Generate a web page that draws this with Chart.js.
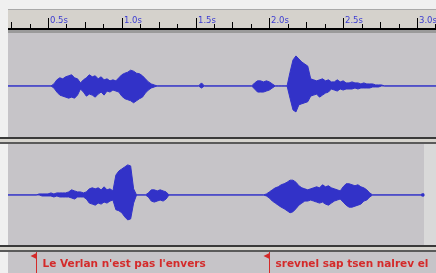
<!DOCTYPE html>
<html><head><meta charset="utf-8">
<script src="https://cdn.jsdelivr.net/npm/chart.js@4.4.1/dist/chart.umd.min.js"></script>
<style>html,body{margin:0;padding:0;background:#f0f0f0;overflow:hidden}canvas{display:block}</style>
</head><body>
<canvas id="c" width="436" height="273"></canvas>
<script>
// ---- time axis (seconds) ----
const viewStart = 0.229, viewEnd = 3.129;
const sampleStep = 0.02;
const rulerMajorTicks = [0.5, 1.0, 1.5, 2.0, 2.5, 3.0];
const rulerMajorLabels = ['0.5s', '1.0s', '1.5s', '2.0s', '2.5s', '3.0s'];
const rulerQuarterTicks = [0.25, 0.75, 1.25, 1.75, 2.25, 2.75];
const rulerEighthTicks = [0.375, 0.625, 0.875, 1.125, 1.375, 1.625, 1.875, 2.125, 2.375, 2.625, 2.875, 3.125];

// ---- track 1 waveform envelope (percent of full scale) ----
const t1Seg1Start = 0.54;
const t1Seg1Up   = [4,12,16,14,18,20,22,16,14,6, 12,16,22,18,20,14,18,12,14,10, 12,10,16,22,25,27,31,29,25,24, 20,14,8,4,2];
const t1Seg1Down = [4,12,18,20,22,24,22,24,18,6, 12,20,16,18,22,16,12,18,10,12, 8,10,12,20,25,27,29,33,29,25, 22,14,8,4,2];
const t1Seg2Start = 1.54;
const t1Seg2Up   = [6];
const t1Seg2Down = [4];
const t1Seg3Start = 1.90;
const t1Seg3Up   = [6,10,10,8,10,8,4, 0,0,0,0,0, 27,51,59,53,47,43,39,14,12,10, 12,14,10,12,8,8,12,8,10,6, 6,8,6,6,4,6,4,4,4,2, 2,2];
const t1Seg3Down = [6,12,12,12,10,8,4, 0,0,0,0,0, 24,47,51,37,35,33,31,20,18,16, 22,18,14,12,6,8,10,6,8,6, 6,6,4,6,4,4,4,4,2,2, 2,0];
const track1End = 3.3;

// ---- track 2 waveform envelope (percent of full scale) ----
const t2Seg1Start = 0.44;
const t2Seg1Up   = [2,2,2,2,4,2,4,4,4,4, 6,10,8,6,6,4,6,12,14,12, 14,10,16,10,12,8,39,47,51,55,59,57,12];
const t2Seg1Down = [0,2,2,2,2,4,2,4,4,4, 4,6,8,4,4,4,8,16,18,20, 16,18,14,16,12,10,29,31,35,43,49,47,16];
const t2Seg2Start = 1.18;
const t2Seg2Up   = [4,10,10,8,10,8,6];
const t2Seg2Down = [4,12,14,12,10,12,8];
const t2Seg3Start = 1.98;
const t2Seg3Up   = [2,6,10,14,16,20,22,25,29,29, 25,18,14,12,10,12,14,16,14,20, 16,18,14,12,10,8,16,22,22,20, 18,20,16,14,10,4];
const t2Seg3Down = [2,6,12,16,20,24,27,31,35,33, 27,20,16,12,12,10,12,14,16,14, 18,20,16,12,10,8,14,20,24,24, 22,20,18,12,10,4];
const track2End = 3.04;

// ---- label track ----
const labelTimes = [0.42, 2.00];
const labelTexts = ["Le Verlan n'est pas l'envers", "srevnel sap tsen nalrev el"];

// ---- styles ----
const WAVE = '#3232c8';
const TRACK_BG = '#c6c4c8';
const TRACK_BG_END = '#d9d9d9';
const RULER_BG = '#d5d2cc';
const RULER_TEXT = '#3c3cd2';
const LABEL_RED = '#d42a2a';

function buildEnvelope(segs, endTime) {
  const up = [{x: viewStart - 0.2, y: 0}], down = [{x: viewStart - 0.2, y: 0}];
  for (const s of segs) {
    up.push({x: s.start - sampleStep, y: 0});
    down.push({x: s.start - sampleStep, y: 0});
    s.up.forEach((v, i) => {
      const t = s.start + i * sampleStep;
      up.push({x: t, y: v});
      down.push({x: t, y: -s.down[i]});
    });
    const e = s.start + s.up.length * sampleStep;
    up.push({x: e, y: 0});
    down.push({x: e, y: 0});
  }
  up.push({x: endTime, y: 0});
  down.push({x: endTime, y: 0});
  return {up, down};
}

const env1 = buildEnvelope([
  {start: t1Seg1Start, up: t1Seg1Up, down: t1Seg1Down},
  {start: t1Seg2Start, up: t1Seg2Up, down: t1Seg2Down},
  {start: t1Seg3Start, up: t1Seg3Up, down: t1Seg3Down}
], track1End);
const env2 = buildEnvelope([
  {start: t2Seg1Start, up: t2Seg1Up, down: t2Seg1Down},
  {start: t2Seg2Start, up: t2Seg2Up, down: t2Seg2Down},
  {start: t2Seg3Start, up: t2Seg3Up, down: t2Seg3Down}
], track2End);

const SEP1 = 7, SEP2 = 6;

function drawSeparator(ctx, y, w) {
  ctx.fillStyle = '#3a3a3a'; ctx.fillRect(0, y, w, 2);
  ctx.fillStyle = '#d6d4ce'; ctx.fillRect(0, y + 2, w, 3);
  ctx.fillStyle = '#5a5a5a'; ctx.fillRect(0, y + 5, w, 2);
}

const chrome = {
  id: 'chrome',
  beforeDraw(chart) {
    const {ctx, chartArea, scales} = chart;
    const {x, y1, y2, y3} = scales;
    const L = chartArea.left, R = chartArea.right, W = chart.width;
    const top = chartArea.top;
    ctx.save();
    ctx.fillStyle = '#f0f0f0';
    ctx.fillRect(0, 0, W, chart.height);
    // ruler
    const rb = top - 5;
    ctx.fillStyle = '#a9a9a9'; ctx.fillRect(L, 9, R - L, 1);
    ctx.fillStyle = RULER_BG; ctx.fillRect(L, 10, R - L, rb - 10);
    ctx.fillStyle = '#000'; ctx.fillRect(L, rb, R - L, 2);
    ctx.fillStyle = '#9a9a9a'; ctx.fillRect(L, rb + 2, R - L, 3);
    ctx.strokeStyle = '#000'; ctx.lineWidth = 1;
    const tick = (v, h) => {
      const px = Math.round(x.getPixelForValue(v)) + 0.5;
      if (px < L || px > R) return;
      ctx.beginPath(); ctx.moveTo(px, rb - h); ctx.lineTo(px, rb); ctx.stroke();
    };
    rulerEighthTicks.forEach(v => tick(v, 4));
    rulerQuarterTicks.forEach(v => tick(v, 6));
    rulerMajorTicks.forEach(v => tick(v, 10));
    ctx.fillStyle = RULER_TEXT;
    ctx.font = '8.5px "DejaVu Sans"';
    ctx.textBaseline = 'alphabetic'; ctx.textAlign = 'left';
    rulerMajorTicks.forEach((v, i) => {
      const px = Math.round(x.getPixelForValue(v)) + 2;
      ctx.fillText(rulerMajorLabels[i], px, rb - 5.5);
    });
    // track 1
    ctx.fillStyle = TRACK_BG;
    ctx.fillRect(L, y1.top, R - L, y1.bottom - y1.top - SEP1);
    drawSeparator(ctx, y1.bottom - SEP1, W);
    // track 2
    ctx.fillStyle = TRACK_BG;
    ctx.fillRect(L, y2.top, R - L, y2.bottom - y2.top - SEP2);
    const ex = Math.round(x.getPixelForValue(track2End)) + 1;
    ctx.fillStyle = TRACK_BG_END;
    ctx.fillRect(ex, y2.top, R - ex, y2.bottom - y2.top - SEP2);
    drawSeparator(ctx, y2.bottom - SEP2, W);
    // label track
    ctx.fillStyle = TRACK_BG;
    ctx.fillRect(L, y3.top + 1, R - L, y3.bottom - y3.top);
    ctx.restore();
  },
  afterDatasetsDraw(chart) {
    const {ctx, scales} = chart;
    const {x, y3} = scales;
    ctx.save();
    labelTimes.forEach((t, i) => {
      const px = Math.round(x.getPixelForValue(t)) + 0.5;
      ctx.strokeStyle = LABEL_RED; ctx.lineWidth = 1;
      ctx.beginPath(); ctx.moveTo(px, y3.top + 1); ctx.lineTo(px, y3.bottom); ctx.stroke();
      ctx.fillStyle = LABEL_RED;
      ctx.beginPath();
      ctx.moveTo(px, y3.top + 2);
      ctx.lineTo(px - 6, y3.top + 5);
      ctx.lineTo(px, y3.top + 8);
      ctx.closePath(); ctx.fill();
      ctx.font = 'bold 10.5px "DejaVu Sans"';
      ctx.textAlign = 'left'; ctx.textBaseline = 'alphabetic';
      ctx.fillText(labelTexts[i], px + 6, y3.top + 16);
    });
    ctx.restore();
  }
};

const lineBase = {
  borderColor: WAVE, backgroundColor: WAVE, borderWidth: 1,
  pointRadius: 0, pointHoverRadius: 0, tension: 0, xAxisID: 'x'
};

new Chart(document.getElementById('c'), {
  type: 'line',
  data: {
    datasets: [
      Object.assign({}, lineBase, {data: env1.up, yAxisID: 'y1', fill: false}),
      Object.assign({}, lineBase, {data: env1.down, yAxisID: 'y1', fill: '-1'}),
      Object.assign({}, lineBase, {data: env2.up, yAxisID: 'y2', fill: false,
        pointStyle: 'rect',
        pointRadius: c => c.dataIndex === env2.up.length - 1 ? 1.6 : 0}),
      Object.assign({}, lineBase, {data: env2.down, yAxisID: 'y2', fill: '-1'})
    ]
  },
  options: {
    responsive: false,
    devicePixelRatio: 1,
    animation: false,
    events: [],
    layout: {autoPadding: false, padding: {top: 33, left: 8, right: 0, bottom: 0}},
    plugins: {legend: {display: false}, tooltip: {enabled: false}},
    scales: {
      x: {type: 'linear', min: viewStart, max: viewEnd, display: false},
      y1: {type: 'linear', position: 'left', stack: 'tracks', stackWeight: 111, weight: 3, min: -114, max: 104, display: false},
      y2: {type: 'linear', position: 'left', stack: 'tracks', stackWeight: 107, weight: 2, min: -110, max: 100, display: false},
      y3: {type: 'linear', position: 'left', stack: 'tracks', stackWeight: 22, weight: 1, min: 0, max: 1, display: false}
    }
  },
  plugins: [chrome]
});
</script>
</body></html>
